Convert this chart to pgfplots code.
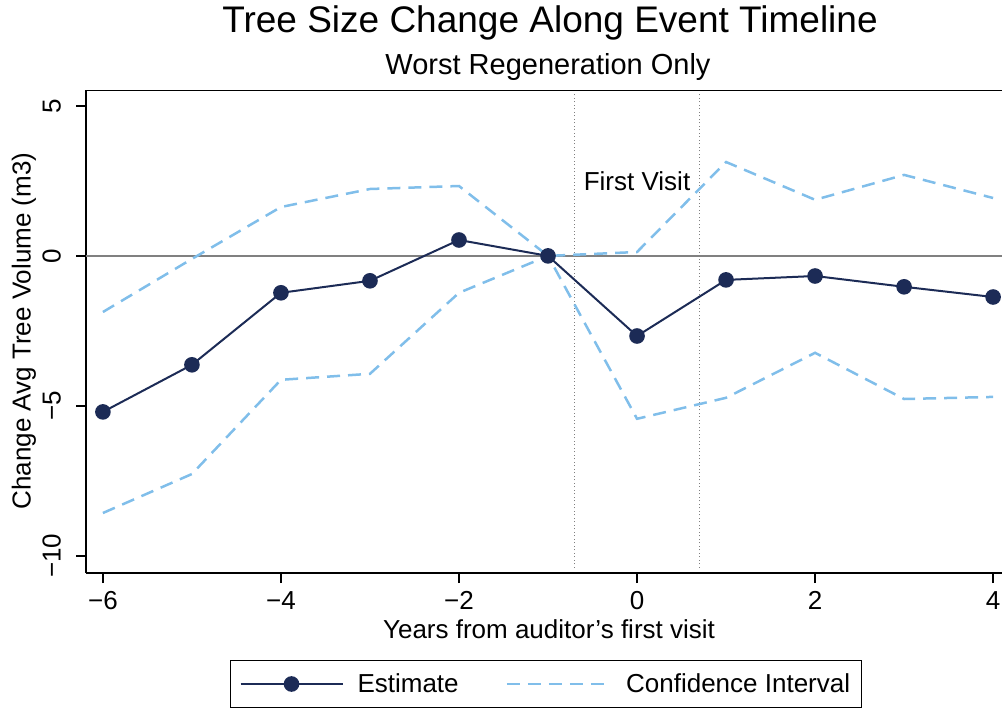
\documentclass[border=0pt]{standalone}
\usepackage{pgfplots}
\pgfplotsset{compat=1.18}
\usepackage{fontspec}
\setmainfont{Liberation Sans}

\definecolor{estnavy}{RGB}{28,43,86}
\definecolor{cilight}{RGB}{128,190,234}
\definecolor{zerogray}{RGB}{128,128,128}

\pgfplotstableread{
x    est     lo      hi
-6  -5.20   -8.57   -1.87
-5  -3.63   -7.27   -0.10
-4  -1.23   -4.13    1.63
-3  -0.83   -3.93    2.23
-2   0.53   -1.23    2.33
-1   0.00    0.00    0.00
 0  -2.67   -5.43    0.13
 1  -0.80   -4.73    3.13
 2  -0.67   -3.23    1.87
 3  -1.03   -4.77    2.70
 4  -1.37   -4.70    1.93
}\eventdata

\begin{document}
\begin{tikzpicture}
\path[use as bounding box] (0,0) rectangle (1002bp,-711bp);

\node[font=\fontsize{37bp}{44bp}\selectfont] at (550bp,-23bp) {Tree Size Change Along Event Timeline};
\node[font=\fontsize{29bp}{34bp}\selectfont] at (548bp,-67bp) {Worst Regeneration Only};
\node[font=\fontsize{26bp}{31bp}\selectfont, rotate=90] at (24bp,-331bp) {Change Avg Tree Volume (m3)};
\node[font=\fontsize{26bp}{31bp}\selectfont] at (549bp,-629bp) {Years from auditor’s first visit};

\begin{axis}[
  at={(86bp,-90bp)}, anchor=north west,
  scale only axis, width=916bp, height=483bp,
  xmin=-6.19, xmax=4.1, ymin=-10.57, ymax=5.53,
  axis lines*=left,
  axis line style={line width=1.3bp, black},
  tick align=outside,
  major tick length=10bp,
  tick style={line width=1.3bp, black},
  xtick={-6,-4,-2,0,2,4},
  xticklabels={−6,−4,−2,0,2,4},
  ytick={-10,-5,0,5},
  yticklabels={−10,−5,0,5},
  ticklabel style={font=\fontsize{26bp}{31bp}\selectfont},
  yticklabel style={rotate=90, anchor=south, inner sep=2bp, yshift=13bp},
  xticklabel style={anchor=north, inner sep=3bp, yshift=-5bp},
  legend style={at={(0.502,-0.2298)}, anchor=center, draw=black, line width=1bp,
    font=\fontsize{26bp}{31bp}\selectfont, inner xsep=9bp, inner ysep=11bp,
    /tikz/every even column/.append style={column sep=45bp}},
  legend columns=2,
  legend cell align=left,
  legend image code/.code={\draw[mark repeat=2,mark phase=2,#1] plot coordinates {(0bp,0bp)(51bp,0bp)(102bp,0bp)};},
]
% reference line at zero and the window around the first visit
\addplot[zerogray, line width=2bp, forget plot] coordinates {(-6.19,0) (4.1,0)};
\addplot[gray, line width=1bp, dash pattern=on 1bp off 2.5bp, forget plot] coordinates {(-0.7,-10.4) (-0.7,5.4)};
\addplot[gray, line width=1bp, dash pattern=on 1bp off 2.5bp, forget plot] coordinates {(0.7,-10.4) (0.7,5.4)};

% point estimates
\addplot[estnavy, line width=2bp, mark=*, mark size=6.8bp, mark options={solid, fill=estnavy}] table[x=x, y=est] {\eventdata};
\addlegendentry{\hspace{12bp}Estimate}

% confidence bands
\addplot[cilight, line width=2.5bp, dash pattern=on 13bp off 8bp] table[x=x, y=hi] {\eventdata};
\addlegendentry{\hspace{14bp}Confidence Interval}
\addplot[cilight, line width=2.5bp, dash pattern=on 13bp off 8bp, forget plot] table[x=x, y=lo] {\eventdata};

\node[font=\fontsize{26bp}{31bp}\selectfont] at (axis cs:0,2.5) {First Visit};

% top frame line
\draw[line width=1.3bp, black] (rel axis cs:0,1) -- (rel axis cs:1,1);
\end{axis}
\end{tikzpicture}
\end{document}
